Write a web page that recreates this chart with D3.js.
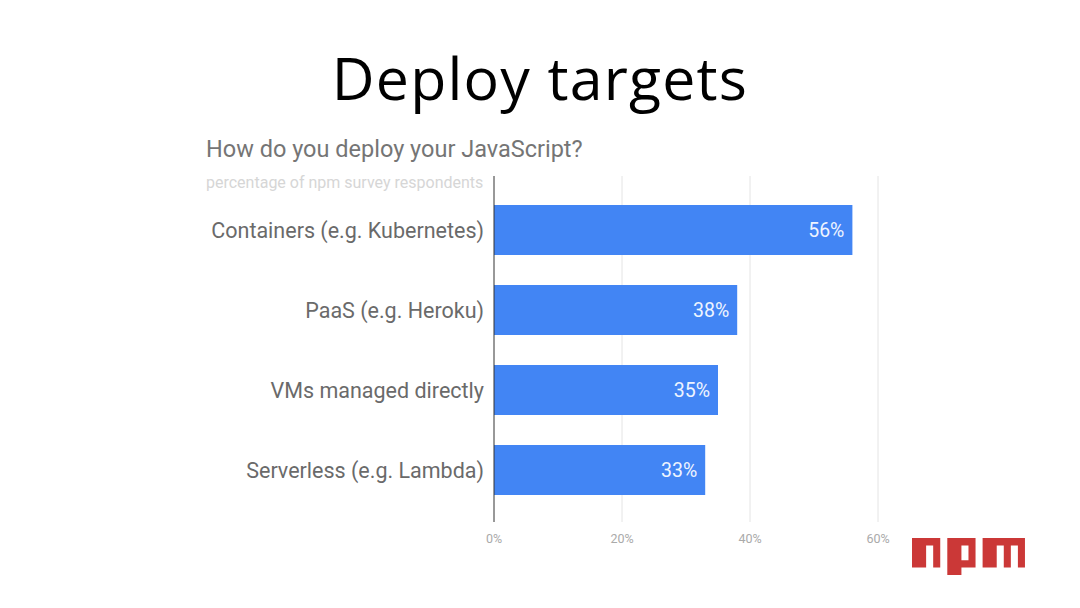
<!DOCTYPE html>
<html>
<head>
<meta charset="utf-8">
<script src="https://cdn.jsdelivr.net/npm/d3@7"></script>
<style>
  body { margin: 0; background: #fff; }
  svg { display: block; }
</style>
</head>
<body>
<div id="chart"></div>
<script>
// chart data
var categories = ["Containers (e.g. Kubernetes)", "PaaS (e.g. Heroku)", "VMs managed directly", "Serverless (e.g. Lambda)"];
var values = [56, 38, 35, 33];
var tickValues = [0, 20, 40, 60];

var width = 1080, height = 608;
var margin = {top: 176, left: 494, right: 202, bottom: 86};

var svg = d3.select("#chart").append("svg")
    .attr("width", width)
    .attr("height", height);

// slide title
svg.append("text")
    .attr("x", 540)
    .attr("y", 100)
    .attr("text-anchor", "middle")
    .style("font-family", "'Open Sans', sans-serif")
    .style("font-size", "59px")
    .style("letter-spacing", "1.2px")
    .style("fill", "#000")
    .text("Deploy targets");

// chart title + subtitle
svg.append("text")
    .attr("x", 206)
    .attr("y", 157)
    .style("font-family", "Roboto, sans-serif")
    .style("font-size", "23.5px")
    .style("fill", "#757575")
    .text("How do you deploy your JavaScript?");

svg.append("text")
    .attr("x", 206)
    .attr("y", 188)
    .style("font-family", "Roboto, sans-serif")
    .style("font-size", "16px")
    .style("fill", "#d6d6d6")
    .text("percentage of npm survey respondents");

var x = d3.scaleLinear()
    .domain([0, 60])
    .range([margin.left, width - margin.right]);

var y = d3.scaleBand()
    .domain(categories)
    .range([189, 511])
    .paddingInner(0.375)
    .paddingOuter(0.2);

// white mask so the subtitle stops at the axis
svg.append("rect")
    .attr("x", x(0))
    .attr("y", 170)
    .attr("width", 60)
    .attr("height", 24)
    .style("fill", "#fff");

// gridlines
svg.append("g").selectAll("line")
    .data(tickValues.slice(1))
  .enter().append("line")
    .attr("x1", function(d) { return x(d); })
    .attr("x2", function(d) { return x(d); })
    .attr("y1", margin.top)
    .attr("y2", height - margin.bottom)
    .style("stroke", "#e4e4e4")
    .style("stroke-width", 1);

// bars
svg.append("g").selectAll("rect")
    .data(values)
  .enter().append("rect")
    .attr("x", x(0))
    .attr("y", function(d, i) { return y(categories[i]); })
    .attr("width", function(d) { return x(d) - x(0); })
    .attr("height", y.bandwidth())
    .style("fill", "#4285f4");

// value labels
svg.append("g").selectAll("text")
    .data(values)
  .enter().append("text")
    .attr("x", function(d) { return x(d) - 8; })
    .attr("y", function(d, i) { return y(categories[i]) + y.bandwidth() / 2; })
    .attr("dy", ".36em")
    .attr("text-anchor", "end")
    .style("font-family", "Roboto, sans-serif")
    .style("font-size", "19.5px")
    .style("fill", "#eef4ff")
    .text(function(d) { return d + "%"; });

// category labels
svg.append("g").selectAll("text")
    .data(categories)
  .enter().append("text")
    .attr("x", x(0) - 10)
    .attr("y", function(d) { return y(d) + y.bandwidth() / 2; })
    .attr("dy", ".36em")
    .attr("text-anchor", "end")
    .style("font-family", "Roboto, sans-serif")
    .style("font-size", "21.5px")
    .style("fill", "#6a6a6a")
    .text(function(d) { return d; });

// axis baseline
svg.append("line")
    .attr("x1", x(0))
    .attr("x2", x(0))
    .attr("y1", margin.top)
    .attr("y2", height - margin.bottom)
    .style("stroke", "#333")
    .style("stroke-width", 1);

// tick labels
svg.append("g").selectAll("text")
    .data(tickValues)
  .enter().append("text")
    .attr("x", function(d) { return x(d); })
    .attr("y", 543)
    .attr("text-anchor", "middle")
    .style("font-family", "Roboto, sans-serif")
    .style("font-size", "12.5px")
    .style("fill", "#aaa")
    .text(function(d) { return d + "%"; });

// npm wordmark
var logo = svg.append("g")
    .attr("transform", "translate(912,538) scale(7.06,7.4) translate(-1,-1)");
logo.append("path")
    .attr("d", "M1,5h2V2h1v3h1V1H1V5z M6,1v5h2V5h2V1H6z M8,2h1v2H8V2z M11,1v4h2V2h1v3h1V2h1v3h1V1H11z")
    .attr("fill-rule", "evenodd")
    .style("fill", "#cb3837");
</script>
</body>
</html>
